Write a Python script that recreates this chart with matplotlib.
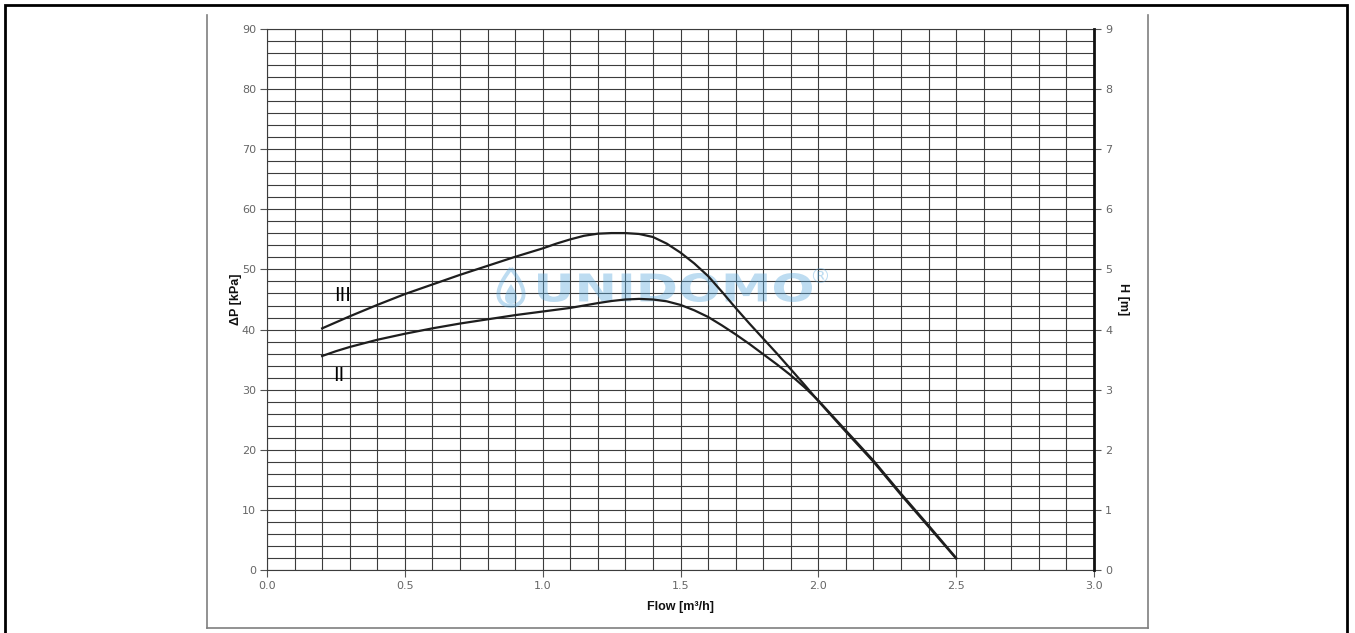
import numpy as np
import matplotlib
matplotlib.use('Agg')
import matplotlib.pyplot as plt
from matplotlib.patches import PathPatch, Rectangle
from matplotlib.path import Path
from matplotlib.textpath import TextPath
from matplotlib.font_manager import FontProperties
from matplotlib.transforms import Affine2D
from matplotlib.lines import Line2D

# pump curves: flow [m3/h] -> delta p [kPa]
flow_iii = [0.2, 0.3, 0.4, 0.5, 0.6, 0.7, 0.8, 0.9, 1.0, 1.05, 1.1, 1.15, 1.2, 1.25, 1.3, 1.35,
            1.4, 1.45, 1.5, 1.55, 1.6, 1.65, 1.7, 1.75, 1.8, 1.85, 1.9, 1.95, 2.0,
            2.1, 2.2, 2.3, 2.4, 2.5]
dp_iii = [40.2, 42.2, 44.1, 45.9, 47.5, 49.1, 50.6, 52.1, 53.5, 54.3, 55.0, 55.6, 55.95, 56.05, 56.05, 55.9,
          55.4, 54.3, 52.8, 51.0, 48.9, 46.3, 43.6, 41.0, 38.5, 36.0, 33.4, 30.8, 28.1,
          23.0, 18.0, 12.5, 7.2, 1.9]

flow_ii = [0.2, 0.25, 0.3, 0.35, 0.4, 0.45, 0.5, 0.6, 0.7, 0.8, 0.9, 1.0, 1.1, 1.15, 1.2, 1.25,
           1.3, 1.35, 1.4, 1.45, 1.5, 1.55, 1.6, 1.65, 1.7, 1.75, 1.8, 1.85, 1.9, 1.95, 2.0,
           2.1, 2.2, 2.3, 2.4, 2.5]
dp_ii = [35.6, 36.4, 37.1, 37.7, 38.3, 38.8, 39.3, 40.2, 41.0, 41.7, 42.4, 43.0, 43.6, 44.0, 44.4, 44.75,
         45.0, 45.1, 45.0, 44.7, 44.1, 43.2, 42.1, 40.7, 39.2, 37.6, 35.9, 34.2, 32.4, 30.4, 28.2,
         23.2, 18.2, 12.7, 7.4, 2.0]

curve_labels = ['III', 'II']
label_pos = [(0.275, 45.6), (0.26, 32.3)]

W, H = 1355, 633
fig = plt.figure(figsize=(W / 100, H / 100), dpi=100)

# outer black frame and inner grey frame
fig.add_artist(Rectangle((5 / W, -0.05), 1342 / W, (H - 5) / H + 0.05, transform=fig.transFigure,
                         fill=False, ec='black', lw=2))
for xs, ys in [([207, 207], [15, 628]), ([1148, 1148], [15, 628]), ([207, 1148], [628, 628])]:
    fig.add_artist(Line2D([x / W for x in xs], [1 - y / H for y in ys], transform=fig.transFigure,
                          color='#7f7f7f', lw=1.2))

ax = fig.add_axes([267 / W, 1 - 570 / H, (1094 - 267) / W, (570 - 29) / H])
ax.set_xlim(0, 3)
ax.set_ylim(0, 90)
ax.set_xticks(np.arange(0, 3.01, 0.5))
ax.set_xticks(np.arange(0, 3.01, 0.1), minor=True)
ax.set_yticks(np.arange(0, 91, 10))
ax.set_yticks(np.arange(0, 91, 2), minor=True)
ax.grid(which='both', color='#3c3c3c', lw=0.8)
ax.set_axisbelow(True)
ax.tick_params(which='minor', length=0)
ax.tick_params(which='major', length=5, width=0.8, color='#555555', labelsize=8,
               labelcolor='#666666', pad=3)
ax.set_xticklabels(['%.1f' % v for v in np.arange(0, 3.01, 0.5)])
for s in ['left', 'bottom', 'top']:
    ax.spines[s].set_color('#3c3c3c')
    ax.spines[s].set_linewidth(0.8)
ax.spines['right'].set_visible(False)

ax2 = ax.twinx()
ax2.set_ylim(0, 9)
ax2.set_yticks(range(0, 10))
ax2.tick_params(length=5, width=0.8, color='#555555', labelsize=8, labelcolor='#666666', pad=3)
ax2.spines['right'].set_color('#111111')
ax2.spines['right'].set_linewidth(2)
for s in ['left', 'bottom', 'top']:
    ax2.spines[s].set_visible(False)

ax.plot(flow_iii, dp_iii, color='#1e1e1e', lw=1.6, zorder=3)
ax.plot(flow_ii, dp_ii, color='#1e1e1e', lw=1.6, zorder=3)
for t, (x, y) in zip(curve_labels, label_pos):
    ax.text(x, y, t, ha='center', va='center', fontsize=14, family='DejaVu Sans', color='black',
            zorder=4)

lab = dict(fontsize=9, fontweight='bold', family='Liberation Sans', color='#111111')
ax.set_xlabel('Flow [m³/h]', labelpad=7, **lab)
ax.set_ylabel('ΔP [kPa]', labelpad=0, **lab)
ax2.set_ylabel('H [m]', rotation=-90, labelpad=12, **lab)

# watermark logo
wm = '#5aa8dc'
tp = TextPath((0, 0), 'UNIDOMO', size=1, prop=FontProperties(family='DejaVu Sans', weight='bold'))
bb = tp.get_extents()
tr = Affine2D().translate(-bb.x0, -bb.y0).scale(274 / W / bb.width, 29 / H / bb.height) \
    .translate(538 / W, 1 - 302 / H)
ax.add_patch(PathPatch(tp, transform=tr + fig.transFigure, fc=wm, ec='none', alpha=0.4, zorder=2))
fig.text(820 / W, 1 - 277 / H, '®', color=wm, alpha=0.4, fontsize=15, ha='center', va='center')

t = np.linspace(0, 2 * np.pi, 120)
drop = Path(np.column_stack([np.sin(t) * np.abs(np.sin(t / 2)) ** 1.2, np.cos(t)]))
dtr = Affine2D().scale(17 / W, 19 / H).translate(511 / W, 1 - 287 / H)
ax.add_patch(PathPatch(drop, transform=dtr + fig.transFigure, fc='none', ec=wm, lw=2.8,
                       alpha=0.4, zorder=2))
dtr2 = Affine2D().scale(8 / W, 10 / H).translate(511 / W, 1 - 294 / H)
ax.add_patch(PathPatch(drop, transform=dtr2 + fig.transFigure, fc=wm, ec='none', alpha=0.4, zorder=2))

fig.savefig('out.png', dpi=100)
